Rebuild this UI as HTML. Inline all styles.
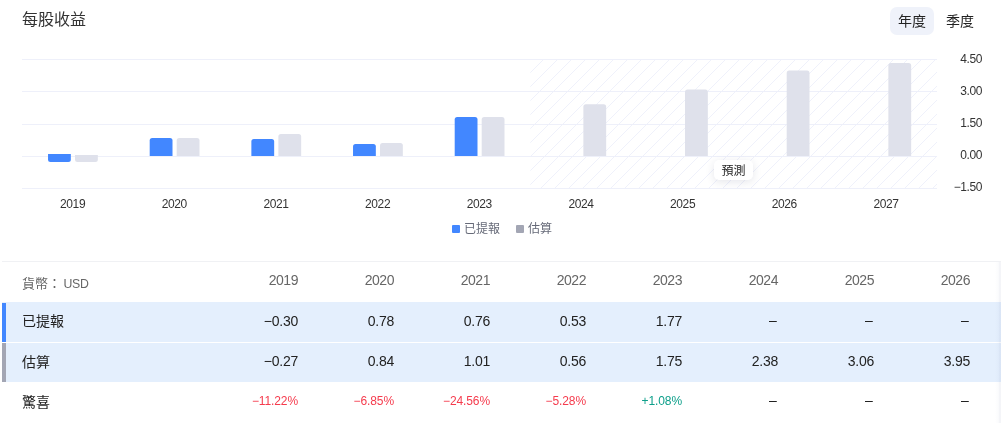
<!DOCTYPE html>
<html lang="zh-Hant"><head><meta charset="utf-8"><title>每股收益</title>
<style>
html,body{margin:0;padding:0;background:#fff;}
body{width:1001px;height:432px;overflow:hidden;position:relative;font-family:"Liberation Sans","Noto Sans CJK TC",sans-serif;color:#222;}
.title{position:absolute;left:22px;top:9px;font-size:16px;line-height:22px;color:#333;}
.tabs{position:absolute;top:7px;left:890px;height:28px;display:flex;font-size:14px;line-height:28px;color:#222;}
.tab{height:28px;padding:0 8px;border-radius:7px;margin-right:4px;}
.tab.on{background:#eff2fa;}
.chart{position:absolute;left:0;top:0;}
.xl{font-size:12px;letter-spacing:-0.4px;fill:#333;font-family:"Liberation Sans",sans-serif;}
.yl{font-size:12px;letter-spacing:-0.4px;fill:#333;font-family:"Liberation Sans",sans-serif;}
.legend{position:absolute;top:220px;left:452px;font-size:12px;line-height:18px;color:#666a78;display:flex;align-items:center;}
.legend i{display:inline-block;width:8px;height:8px;margin-right:4px;border-radius:1px;position:relative;top:0px;}
.legend span{margin-right:16px;display:flex;align-items:center;}
.tbl{position:absolute;left:2px;top:261px;width:999px;border-top:1px solid #f0f1f4;}
.row{display:flex;height:39px;align-items:center;font-size:14px;position:relative;}
.row .l{width:200px;padding-left:20px;box-sizing:border-box;}
.row .c{width:96px;text-align:right;box-sizing:border-box;letter-spacing:-0.25px;position:relative;top:-1px;}
.row .l span{position:relative;top:-2px;display:inline-block;}
.row.h{height:40px;color:#666;}
.row.h .c{letter-spacing:-0.45px;}
.d{position:relative;left:-1.5px;top:-1px;}
.row.r3 .d{top:-1px;}
.row.h .l{font-size:13px;}
.row.h .l span{top:0;}
.row.h .l b{font-weight:normal;font-size:12.3px;margin-left:2.4px;letter-spacing:-0.2px;}
.row.h .c{top:-2px;}
.row.r3 .c{top:-1px;}
.row.r3 .l span{top:-1px;}
.row.b{background:#e4effd;height:40px;}
.row.b2{margin-top:1px;height:39px;}
.row.b2 .c{top:-2px;}
.row.b2 .d{top:0;}
.row.b:before{content:"";position:absolute;left:0;top:1px;bottom:0;width:4px;background:#4287ff;}
.row.b2:before{background:#a3a6b4;top:0;}
.row .p{font-size:12px;letter-spacing:-0.1px;}
.dn{color:#f53b4d;}
.up{color:#0d9f8a;}
.fc{position:absolute;left:714px;top:160px;width:39px;height:20px;border-radius:5px;background:#fff;box-shadow:0 2px 8px rgba(40,50,90,0.12);font-size:12px;line-height:23px;text-align:center;color:#222;}
.edge{position:absolute;left:995px;top:262px;width:6px;height:161px;background:linear-gradient(90deg,rgba(40,55,120,0) 0,rgba(40,55,120,.02) 58%,rgba(40,55,120,.05) 62%,rgba(40,55,120,.05) 100%);}
</style></head><body>
<svg class="chart" width="1001" height="240" viewBox="0 0 1001 240">
<defs><pattern id="h" width="14" height="14" patternUnits="userSpaceOnUse" patternTransform="translate(1,0)"><path d="M-1 15 L15 -1 M-1 1 L1 -1 M13 15 L15 13" stroke="#eff1fb" stroke-width="1" fill="none"/></pattern></defs>
<rect x="530.33" y="59" width="406.67" height="129.5" fill="url(#h)"/>
<rect x="22.0" y="59" width="915.0" height="1" fill="#eef0fa"/>
<rect x="22.0" y="91" width="915.0" height="1" fill="#eef0fa"/>
<rect x="22.0" y="124" width="915.0" height="1" fill="#eef0fa"/>
<rect x="22.0" y="156" width="915.0" height="1" fill="#eef0fa"/>
<rect x="22.0" y="188" width="915.0" height="1" fill="#eef0fa"/>
<path d="M48.03 154.0 V159.50 Q48.03 162.00 50.53 162.00 H68.33 Q70.83 162.00 70.83 159.50 V154.0 Z" fill="#4287ff"/>
<path d="M75.03 155.0 V159.50 Q75.03 162.00 77.53 162.00 H95.33 Q97.83 162.00 97.83 159.50 V155.0 Z" fill="#dfe1eb"/>
<text x="72.63" y="207.5" text-anchor="middle" class="xl">2019</text>
<path d="M149.70 156.0 V140.50 Q149.70 138.00 152.20 138.00 H170.00 Q172.50 138.00 172.50 140.50 V156.0 Z" fill="#4287ff"/>
<path d="M176.70 156.0 V140.50 Q176.70 138.00 179.20 138.00 H197.00 Q199.50 138.00 199.50 140.50 V156.0 Z" fill="#dfe1eb"/>
<text x="174.30" y="207.5" text-anchor="middle" class="xl">2020</text>
<path d="M251.37 156.0 V141.50 Q251.37 139.00 253.87 139.00 H271.67 Q274.17 139.00 274.17 141.50 V156.0 Z" fill="#4287ff"/>
<path d="M278.37 156.0 V136.50 Q278.37 134.00 280.87 134.00 H298.67 Q301.17 134.00 301.17 136.50 V156.0 Z" fill="#dfe1eb"/>
<text x="275.97" y="207.5" text-anchor="middle" class="xl">2021</text>
<path d="M353.03 156.0 V146.50 Q353.03 144.00 355.53 144.00 H373.33 Q375.83 144.00 375.83 146.50 V156.0 Z" fill="#4287ff"/>
<path d="M380.03 156.0 V145.50 Q380.03 143.00 382.53 143.00 H400.33 Q402.83 143.00 402.83 145.50 V156.0 Z" fill="#dfe1eb"/>
<text x="377.63" y="207.5" text-anchor="middle" class="xl">2022</text>
<path d="M454.70 156.0 V119.50 Q454.70 117.00 457.20 117.00 H475.00 Q477.50 117.00 477.50 119.50 V156.0 Z" fill="#4287ff"/>
<path d="M481.70 156.0 V119.50 Q481.70 117.00 484.20 117.00 H502.00 Q504.50 117.00 504.50 119.50 V156.0 Z" fill="#dfe1eb"/>
<text x="479.30" y="207.5" text-anchor="middle" class="xl">2023</text>
<path d="M583.37 156.0 V106.73 Q583.37 104.23 585.87 104.23 H603.67 Q606.17 104.23 606.17 106.73 V156.0 Z" fill="#dfe1eb"/>
<text x="580.97" y="207.5" text-anchor="middle" class="xl">2024</text>
<path d="M685.03 156.0 V92.11 Q685.03 89.61 687.53 89.61 H705.33 Q707.83 89.61 707.83 92.11 V156.0 Z" fill="#dfe1eb"/>
<text x="682.63" y="207.5" text-anchor="middle" class="xl">2025</text>
<path d="M786.70 156.0 V72.98 Q786.70 70.48 789.20 70.48 H807.00 Q809.50 70.48 809.50 72.98 V156.0 Z" fill="#dfe1eb"/>
<text x="784.30" y="207.5" text-anchor="middle" class="xl">2026</text>
<path d="M888.37 156.0 V65.45 Q888.37 62.95 890.87 62.95 H908.67 Q911.17 62.95 911.17 65.45 V156.0 Z" fill="#dfe1eb"/>
<text x="885.97" y="207.5" text-anchor="middle" class="xl">2027</text>
<text x="982" y="63.0" text-anchor="end" class="yl">4.50</text>
<text x="982" y="95.0" text-anchor="end" class="yl">3.00</text>
<text x="982" y="127.0" text-anchor="end" class="yl">1.50</text>
<text x="982" y="159.0" text-anchor="end" class="yl">0.00</text>
<text x="982" y="191.0" text-anchor="end" class="yl">−1.50</text>
</svg>
<div class="title">每股收益</div>
<div class="tabs"><div class="tab on">年度</div><div class="tab">季度</div></div>
<div class="legend"><span><i style="background:#4287ff"></i>已提報</span><span><i style="background:#a3a6b4"></i>估算</span></div>
<div class="tbl">
<div class="row h"><div class="l"><span>貨幣：<b>USD</b></span></div><div class="c">2019</div><div class="c">2020</div><div class="c">2021</div><div class="c">2022</div><div class="c">2023</div><div class="c">2024</div><div class="c">2025</div><div class="c">2026</div></div>
<div class="row b"><div class="l"><span>已提報</span></div><div class="c">−0.30</div><div class="c">0.78</div><div class="c">0.76</div><div class="c">0.53</div><div class="c">1.77</div><div class="c"><span class="d">–</span></div><div class="c"><span class="d">–</span></div><div class="c"><span class="d">–</span></div></div>
<div class="row b b2"><div class="l"><span>估算</span></div><div class="c">−0.27</div><div class="c">0.84</div><div class="c">1.01</div><div class="c">0.56</div><div class="c">1.75</div><div class="c">2.38</div><div class="c">3.06</div><div class="c">3.95</div></div>
<div class="row r3"><div class="l"><span>驚喜</span></div><div class="c p dn">−11.22%</div><div class="c p dn">−6.85%</div><div class="c p dn">−24.56%</div><div class="c p dn">−5.28%</div><div class="c p up">+1.08%</div><div class="c"><span class="d">–</span></div><div class="c"><span class="d">–</span></div><div class="c"><span class="d">–</span></div></div>
</div>
<div class="edge"></div>
<div class="fc">預測</div>
</body></html>
